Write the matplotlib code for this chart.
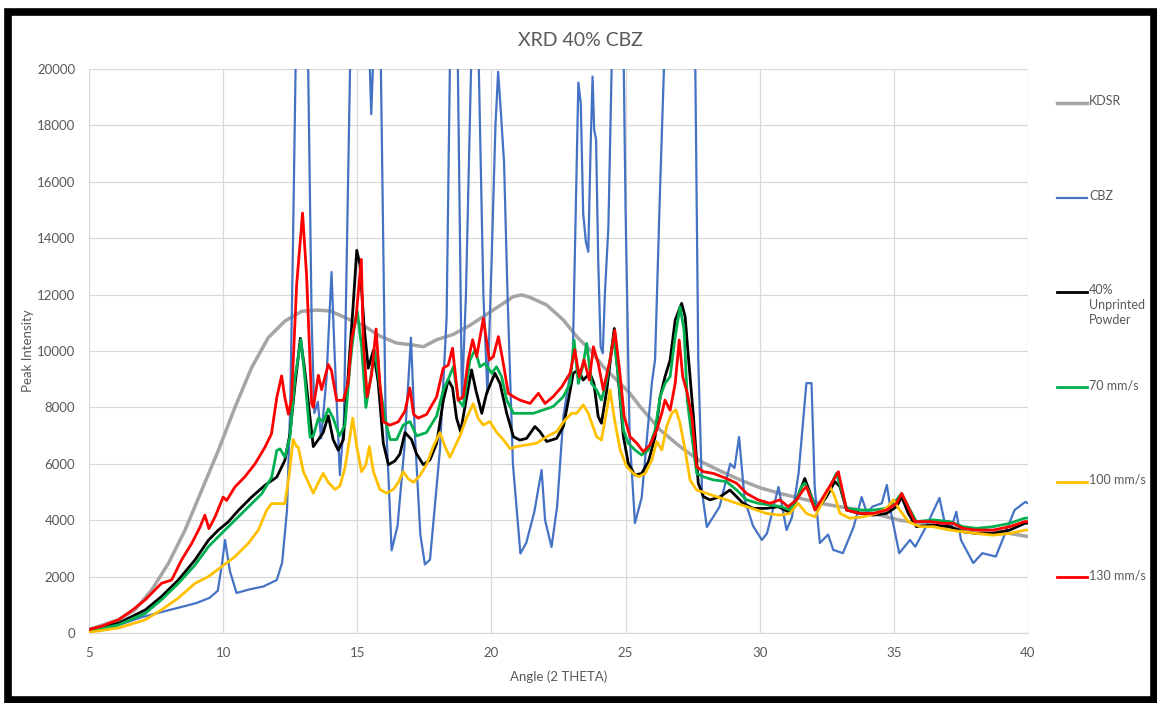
import matplotlib
matplotlib.use("Agg")
import matplotlib.pyplot as plt
from matplotlib.lines import Line2D
from matplotlib.patches import Rectangle

plt.rcParams["font.family"] = ["Lato", "DejaVu Sans"]

# ---- data (2-theta in degrees, peak intensity) ----
kdsr_theta = [5.0, 6.1, 6.71, 7.34, 7.96, 8.58, 9.2, 9.82, 10.44, 11.06, 11.68, 12.3, 12.93, 13.5,
              14.0, 14.6, 15.22, 15.84, 16.47, 17.09, 17.46, 17.96, 18.58, 19.2, 19.82, 20.3, 20.82,
              21.13, 21.44, 22.06, 22.68, 23.18, 23.67, 24.17, 24.67, 25.16, 25.54, 26.29, 27.03,
              27.77, 28.52, 29.27, 30.01, 30.75, 31.5, 32.24, 32.99, 33.73, 34.48, 35.22, 35.97,
              36.71, 37.46, 38.2, 38.95, 39.5, 40.0]
kdsr_int = [120, 470, 820, 1530, 2470, 3650, 5060, 6470, 8000, 9410, 10470, 11060, 11410, 11450,
            11420, 11160, 10910, 10530, 10280, 10210, 10150, 10400, 10590, 10910, 11300, 11600, 11930,
            11990, 11900, 11630, 11100, 10510, 10040, 9440, 8970, 8500, 8030, 7200, 6610,
            6100, 5750, 5430, 5150, 4950, 4780, 4600, 4480, 4360, 4180, 4000, 3890,
            3770, 3710, 3650, 3590, 3500, 3420]

cbz_theta = [5.0, 6.0, 7.0, 8.0, 9.0, 9.5, 9.8, 9.95, 10.07, 10.25, 10.5, 11.0, 11.5, 12.0, 12.2,
             12.38, 12.5, 12.6, 12.7, 12.78, 13.1, 13.17, 13.3, 13.4, 13.53, 13.65, 13.85, 14.04,
             14.15, 14.35, 14.5, 14.73, 14.8, 15.4, 15.47, 15.52, 15.58, 15.65, 15.8, 15.88, 16.05,
             16.28, 16.5, 16.75, 17.0, 17.15, 17.35, 17.52, 17.71, 18.08, 18.33, 18.45, 18.5, 18.7,
             18.75, 18.9, 19.05, 19.24, 19.3, 19.5, 19.53, 19.7, 19.85, 20.0, 20.15, 20.25, 20.35,
             20.47, 20.6, 20.8, 21.08, 21.3, 21.6, 21.87, 22.0, 22.24, 22.45, 22.68, 22.9, 23.03,
             23.24, 23.33, 23.42, 23.52, 23.61, 23.7, 23.77, 23.83, 23.9, 23.98, 24.07, 24.15, 24.23,
             24.36, 24.48, 24.55, 24.9, 25.0, 25.15, 25.35, 25.6, 25.98, 26.1, 26.28, 26.43, 26.5,
             27.55, 27.6, 27.71, 27.85, 28.03, 28.5, 28.9, 29.06,
             29.23, 29.44, 29.75, 30.08, 30.27, 30.7, 31.0, 31.2, 31.45, 31.74, 31.93, 32.05,
             32.24, 32.55, 32.74, 33.1, 33.5, 33.8, 34.0, 34.2, 34.55, 34.74, 34.9, 35.2, 35.6,
             35.8, 36.2, 36.7, 36.9, 37.15, 37.33, 37.5, 37.96, 38.3, 38.8, 39.0, 39.5, 39.9, 40.0]
cbz_int = [50, 250, 570, 815, 1060, 1250, 1500, 2400, 3300, 2200, 1420, 1550, 1650, 1880, 2500,
           4360, 8000, 13600, 20000, 22500, 22500, 20000, 11000, 7800, 8200, 6900, 9000, 12800,
           10000, 5600, 7500, 20000, 22500, 22500, 20000, 18400, 20000, 22500, 22500, 20000, 8000,
           2930, 3800, 6500, 10470, 7000, 3500, 2430, 2600, 6490, 11200, 20000, 22500, 22500,
           20000, 8300, 12000, 20000, 22500, 22500, 20000, 12000, 8500, 13000, 18000, 19900, 18500,
           16700, 12000, 6000, 2820, 3200, 4300, 5780, 4000, 3050, 4500, 7660, 9000, 9700,
           19520, 18780, 14880, 13880, 13520, 17360, 19730, 17840, 17500, 13230, 10150, 9920, 12050,
           14410, 20000, 22500, 22500, 15000, 7000, 3900, 4800, 8870, 9700, 15590, 20000, 22500,
           22500, 20000, 9700, 5000, 3760, 4470, 6000, 5850,
           6950, 4720, 3800, 3300, 3530, 5180, 3650, 4100, 5670, 8860, 8860, 5180,
           3190, 3490, 2950, 2830, 3760, 4820, 4240, 4480, 4600, 5250, 4240, 2830, 3300,
           3060, 3770, 4790, 3890, 3770, 4300, 3300, 2480, 2830, 2710, 3180, 4360, 4650, 4600]

unprinted_theta = [5.0, 6.1, 7.1, 7.7, 8.33, 8.95, 9.45, 9.82, 10.19, 10.57, 11.06, 11.56, 12.0, 12.3,
                   12.49, 12.68, 12.88, 13.05, 13.24, 13.36, 13.55, 13.73, 13.92, 14.1, 14.29, 14.48,
                   14.66, 14.85, 14.98, 15.1, 15.25, 15.41, 15.6, 15.78, 15.97, 16.16, 16.4, 16.59,
                   16.78, 17.02, 17.21, 17.46, 17.71, 17.96, 18.21, 18.39, 18.55, 18.7, 18.85, 19.08,
                   19.26, 19.42, 19.64, 19.82, 20.13, 20.32, 20.57, 20.82, 21.06, 21.31, 21.62, 21.81,
                   22.06, 22.43, 22.68, 22.87, 23.05, 23.24, 23.42, 23.67, 23.82, 23.98, 24.1, 24.3,
                   24.48, 24.58, 24.73, 24.92, 25.1, 25.35, 25.6, 25.85, 26.1, 26.29, 26.47, 26.66,
                   26.85, 27.09, 27.22, 27.34, 27.53, 27.71, 27.9, 28.14, 28.52, 28.89, 29.14, 29.38,
                   29.76, 30.25, 30.69, 31.06, 31.37, 31.68, 31.93, 32.12, 32.49, 32.8, 32.99, 33.24,
                   33.73, 34.23, 34.73, 35.1, 35.29, 35.54, 35.84, 36.47, 37.09, 37.58, 38.08, 38.7,
                   39.32, 39.88, 40.0]
unprinted_int = [120, 350, 820, 1290, 1880, 2590, 3290, 3650, 3940, 4350, 4820, 5240, 5530, 6120,
                 7060, 8820, 10450, 9260, 7620, 6610, 6860, 7110, 7700, 6860, 6480, 6860,
                 9140, 11670, 13570, 13060, 10910, 9390, 10020, 8880, 6730, 5970, 6100, 6350,
                 7110, 6860, 6350, 5970, 6140, 6730, 8260, 8970, 8700, 7620, 7140, 8380,
                 9330, 8610, 7790, 8500, 9210, 8850, 7790, 6960, 6840, 6900, 7320, 7140,
                 6790, 6900, 7320, 8260, 9210, 9330, 8970, 9210, 8850, 7670, 7440, 8620,
                 10040, 10800, 9000, 6960, 6020, 5600, 5660, 6070, 6960, 8380, 9090, 9680,
                 11100, 11690, 11220, 9800, 7670, 5310, 4840, 4720, 4830, 5070, 4830, 4600,
                 4420, 4420, 4480, 4300, 4720, 5480, 4830, 4360, 4830, 5370, 5190, 4360,
                 4240, 4180, 4240, 4480, 4830, 4240, 3770, 3830, 3770, 3590, 3530, 3530,
                 3650, 3890, 3900]

s70_theta = [5.0, 6.1, 7.1, 7.7, 8.33, 8.95, 9.45, 9.94, 10.44, 10.94, 11.44, 11.81, 12.0, 12.12,
             12.3, 12.49, 12.68, 12.9, 13.05, 13.24, 13.36, 13.55, 13.73, 13.92, 14.1, 14.33, 14.54,
             14.73, 14.91, 15.0, 15.16, 15.32, 15.47, 15.66, 15.82, 16.03, 16.22, 16.47, 16.71,
             16.96, 17.21, 17.58, 17.96, 18.21, 18.43, 18.58, 18.77, 18.95, 19.2, 19.39, 19.57,
             19.76, 20.01, 20.19, 20.38, 20.57, 20.82, 21.19, 21.56, 21.93, 22.3, 22.68, 22.93,
             23.08, 23.24, 23.4, 23.55, 23.73, 23.92, 24.1, 24.3, 24.55, 24.73, 24.92, 25.1, 25.35,
             25.6, 25.85, 26.1, 26.29, 26.47, 26.66, 26.85, 27.03, 27.18, 27.3, 27.47, 27.65, 27.9,
             28.27, 28.76, 29.14, 29.51, 29.94, 30.38, 30.81, 31.12, 31.37, 31.56, 31.68, 31.93,
             32.12, 32.43, 32.74, 32.86, 33.05, 33.24, 33.73, 34.23, 34.73, 35.1, 35.29, 35.54,
             35.84, 36.47, 37.09, 37.58, 38.08, 38.7, 39.32, 39.88, 40.0]
s70_int = [60, 290, 700, 1180, 1760, 2410, 3060, 3530, 4000, 4470, 4940, 5530, 6470, 6530,
           6240, 6940, 9060, 10410, 9000, 6940, 6990, 7620, 7500, 7950, 7620, 6990, 7370,
           9520, 11040, 11420, 10150, 8000, 8880, 10020, 8880, 7620, 6860, 6860, 7370,
           7500, 6990, 7110, 7700, 8620, 9090, 9440, 8260, 8030, 9680, 10040, 9440,
           9560, 9210, 9440, 9090, 8260, 7790, 7790, 7790, 7910, 8030, 8380, 8850,
           10390, 8850, 9440, 10270, 8850, 8620, 8260, 8970, 10510, 9090, 7200, 6730, 6490,
           6310, 6490, 7200, 8380, 8850, 9090, 10510, 11570, 10740, 8260, 6960, 5660, 5540,
           5430, 5370, 5070, 4720, 4600, 4540, 4480, 4360, 4720, 5190, 5310, 4830,
           4360, 4830, 5430, 5660, 5070, 4420, 4360, 4360, 4420, 4720, 4950, 4480,
           3950, 4010, 3950, 3770, 3710, 3770, 3890, 4070, 4080]

s100_theta = [5.0, 6.1, 7.1, 7.7, 8.33, 8.95, 9.45, 9.94, 10.44, 10.94, 11.31, 11.62, 11.81, 12.06,
              12.3, 12.45, 12.61, 12.74, 12.8, 12.99, 13.24, 13.36, 13.55, 13.73, 13.92, 14.17,
              14.35, 14.54, 14.73, 14.83, 14.98, 15.16, 15.32, 15.45, 15.6, 15.84, 16.09, 16.34,
              16.53, 16.71, 16.9, 17.09, 17.34, 17.58, 17.83, 18.08, 18.27, 18.45, 18.64, 18.83,
              19.07, 19.32, 19.5, 19.7, 19.94, 20.19, 20.44, 20.69, 20.94, 21.31, 21.68, 22.06,
              22.43, 22.74, 22.99, 23.18, 23.42, 23.61, 23.92, 24.1, 24.3, 24.42, 24.6, 24.8,
              25.04, 25.29, 25.48, 25.73, 25.98, 26.16, 26.35, 26.53, 26.72, 26.88, 27.03, 27.22,
              27.4, 27.65, 28.03, 28.4, 28.77, 29.14, 29.52, 29.89, 30.25, 30.75, 31.12, 31.43,
              31.74, 32.06, 32.37, 32.62, 32.8, 32.99, 33.36, 33.86, 34.35, 34.73, 34.98, 35.22,
              35.54, 35.97, 36.47, 37.09, 37.58, 38.08, 38.7, 39.32, 39.88, 40.0]
s100_int = [25, 180, 470, 820, 1240, 1760, 2000, 2350, 2710, 3180, 3650, 4350, 4590, 4590,
            4590, 5530, 6860, 6610, 6590, 5720, 5210, 4960, 5340, 5660, 5340, 5090,
            5210, 5850, 6990, 7620, 6610, 5720, 5970, 6610, 5720, 5090, 4960, 5090,
            5340, 5720, 5470, 5340, 5590, 5970, 6610, 7110, 6610, 6230, 6610, 6990,
            7620, 8130, 7620, 7370, 7500, 7120, 6860, 6540, 6610, 6670, 6730, 6960,
            7140, 7550, 7790, 7790, 8090, 7790, 6960, 6840, 7910, 8620, 7500, 6490,
            5900, 5660, 5540, 5660, 6130, 6790, 6490, 7320, 7790, 7910, 7440, 6490,
            5430, 5070, 4950, 4830, 4720, 4600, 4480, 4360, 4240, 4180, 4240, 4600,
            4240, 4120, 4720, 5190, 4830, 4240, 4070, 4120, 4240, 4420, 4720, 4360,
            3950, 3770, 3770, 3650, 3590, 3530, 3470, 3530, 3650, 3650]

s130_theta = [5.0, 5.5, 6.1, 6.6, 7.1, 7.7, 8.08, 8.45, 8.83, 9.14, 9.32, 9.47, 9.7, 10.0, 10.13,
              10.44, 10.8, 11.19, 11.56, 11.8, 12.0, 12.18, 12.3, 12.43, 12.55, 12.74, 12.96, 13.11,
              13.3, 13.36, 13.55, 13.67, 13.92, 14.04, 14.23, 14.48, 14.66, 14.79, 14.95, 15.15,
              15.22, 15.37, 15.53, 15.7, 15.84, 15.97, 16.22, 16.53, 16.78, 16.96, 17.1, 17.27,
              17.58, 17.96, 18.2, 18.39, 18.55, 18.76, 18.95, 19.14, 19.3, 19.45, 19.7, 19.92,
              20.07, 20.26, 20.42, 20.63, 20.82, 21.06, 21.44, 21.75, 22.0, 22.3, 22.62, 22.93,
              23.11, 23.27, 23.45, 23.65, 23.8, 23.98, 24.17, 24.42, 24.6, 24.79, 24.95, 25.17,
              25.42, 25.66, 25.91, 26.16, 26.35, 26.47, 26.66, 26.85, 27.0, 27.13, 27.3, 27.47,
              27.65, 27.9, 28.27, 28.76, 29.14, 29.51, 29.94, 30.38, 30.75, 31.06, 31.37, 31.62,
              31.74, 32.06, 32.37, 32.68, 32.93, 33.05, 33.24, 33.73, 34.23, 34.73, 35.1, 35.29,
              35.47, 35.78, 36.34, 36.84, 37.21, 37.58, 38.08, 38.7, 39.32, 39.88, 40.0]
s130_int = [120, 250, 470, 800, 1180, 1760, 1880, 2590, 3180, 3760, 4180, 3700, 4120, 4820, 4700,
            5180, 5530, 6000, 6590, 7060, 8350, 9120, 8350, 7760, 8300, 12350, 14890, 12680,
            8130, 8000, 9140, 8630, 9520, 9300, 8250, 8250, 8880, 10400, 11160, 13250,
            10400, 8380, 9140, 10780, 8880, 7490, 7370, 7490, 7870, 8690, 7750, 7620,
            7750, 8380, 9390, 9500, 10100, 8250, 8380, 9700, 10400, 9800, 11160, 9680,
            9800, 10510, 9680, 8500, 8380, 8260, 8140, 8500, 8140, 8380, 8730, 9210,
            10040, 9090, 9680, 8970, 10150, 9560, 8620, 9680, 10740, 9200, 7670, 6960,
            6730, 6430, 6670, 7200, 7790, 8260, 7900, 8850, 10390, 9090, 8500, 7670,
            5900, 5720, 5660, 5480, 5310, 4950, 4720, 4600, 4720, 4480, 4720, 5070,
            5190, 4360, 4830, 5310, 5720, 5190, 4360, 4240, 4240, 4360, 4600, 4950,
            4600, 3950, 3950, 3890, 3890, 3710, 3650, 3650, 3770, 3950, 3950]

series = [
    ("KDSR", kdsr_theta, kdsr_int, "#A5A5A5", 2.5),
    ("CBZ", cbz_theta, cbz_int, "#4472C4", 1.6),
    ("40%\nUnprinted\nPowder", unprinted_theta, unprinted_int, "#000000", 2.0),
    ("70 mm/s", s70_theta, s70_int, "#00B050", 2.0),
    ("100 mm/s", s100_theta, s100_int, "#FFC000", 2.0),
    ("130 mm/s", s130_theta, s130_int, "#FF0000", 2.0),
]
legend_y_px = [103, 198, 292, 387, 482, 577]

W, H = 1157, 703
fig = plt.figure(figsize=(W / 100, H / 100), dpi=100)
ax = fig.add_axes([89 / W, 1 - 633 / H, 939 / W, 564 / H])

for name, th, it, col, lw in series:
    ax.plot(th, it, color=col, lw=lw, solid_joinstyle="round")

ax.set_xlim(5, 40)
ax.set_ylim(0, 20000)
ax.set_xticks(range(5, 41, 5))
ax.set_yticks(range(0, 20001, 2000))
ax.grid(True, color="#D9D9D9", lw=0.9)
ax.set_axisbelow(True)
for side in ["top", "right", "left"]:
    ax.spines[side].set_visible(False)
ax.spines["bottom"].set_color("#D9D9D9")
ax.tick_params(length=0, labelsize=9.5, labelcolor="#595959")
ax.tick_params(axis="y", pad=10)
ax.tick_params(axis="x", pad=10)
ax.set_xlabel("Angle (2 THETA)", fontsize=9.5, color="#595959", labelpad=8)
ax.set_ylabel("Peak Intensity", fontsize=9.5, color="#595959", labelpad=2)

fig.text(580 / W, 1 - 40 / H, "XRD 40% CBZ", fontsize=14, color="#595959",
         ha="center", va="center")

# legend drawn by hand to match the spread-out Excel layout
for (name, th, it, col, lw), ypx in zip(series, legend_y_px):
    yf = 1 - ypx / H
    fig.add_artist(Line2D([1057 / W, 1087 / W], [yf, yf], color=col, lw=lw))
    fig.text(1089 / W, 1 - (ypx - 8) / H, name, fontsize=9, color="#595959",
             ha="left", va="top", linespacing=1.3)

# thick black frame around the chart
fig.add_artist(Rectangle((7.5 / W, 1 - 700 / H), 1146 / W, 688 / H, transform=fig.transFigure,
                         fill=False, edgecolor="black", lw=5.5))

fig.savefig("out.png", dpi=100)
